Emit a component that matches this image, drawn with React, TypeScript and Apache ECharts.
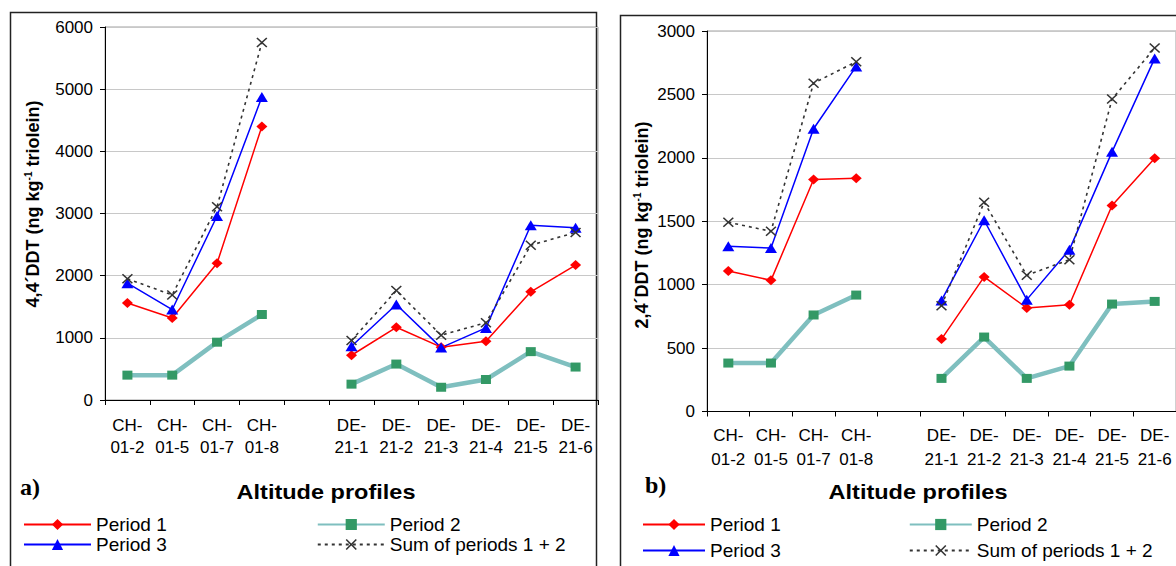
import React, { useEffect, useRef } from 'react';
import * as echarts from 'echarts';

const categories = ['CH-\n01-2', 'CH-\n01-5', 'CH-\n01-7', 'CH-\n01-8', '', 'DE-\n21-1', 'DE-\n21-2', 'DE-\n21-3', 'DE-\n21-4', 'DE-\n21-5', 'DE-\n21-6'];

// Panel a) 4,4'DDT
const p1a = [1560, 1320, 2200, 4400, null, 720, 1170, 850, 945, 1740, 2170];
const p2a = [400, 400, 930, 1375, null, 255, 578, 205, 330, 778, 530];
const p3a = [1880, 1455, 2960, 4875, null, 865, 1535, 843, 1160, 2810, 2770];
const sumA = [1950, 1690, 3110, 5750, null, 957, 1760, 1043, 1243, 2490, 2695];

// Panel b) 2,4'DDT
const p1b = [1108, 1034, 1829, 1839, null, 571, 1061, 816, 842, 1624, 1997];
const p2b = [382, 382, 761, 918, null, 261, 587, 261, 358, 847, 868];
const p3b = [1303, 1289, 2229, 2721, null, 876, 1508, 882, 1276, 2047, 2784];
const sumB = [1492, 1421, 2589, 2758, null, 834, 1650, 1074, 1197, 2463, 2866];

const names = ['Period 1', 'Period 2', 'Period 3', 'Sum of periods 1 + 2'];

const FONT = '"Liberation Sans", Arial, sans-serif';
const XSYM = 'path://M0,1L1,0L5,4L9,0L10,1L6,5L10,9L9,10L5,6L1,10L0,9L4,5Z';

function seriesFor(idx: number, d1: any[], d2: any[], d3: any[], ds: any[]) {
  const common = { type: 'line', xAxisIndex: idx, yAxisIndex: idx, connectNulls: false };
  return [
    { ...common, name: names[0], data: d1, symbol: 'diamond', symbolSize: [11, 10],
      lineStyle: { color: '#ff0000', width: 1.5 }, itemStyle: { color: '#ff0000' } },
    { ...common, name: names[1], data: d2, symbol: 'rect', symbolSize: [10, 9],
      lineStyle: { color: '#7fbfbf', width: 4.5 }, itemStyle: { color: '#339966' } },
    { ...common, name: names[2], data: d3, symbol: 'triangle', symbolSize: [12, 10],
      lineStyle: { color: '#0000ff', width: 1.5 }, itemStyle: { color: '#0000ff' } },
    { ...common, name: names[3], data: ds, symbol: XSYM, symbolSize: [11, 10],
      lineStyle: { color: '#333333', width: 1.6, type: [3, 4] }, itemStyle: { color: '#333333' } },
  ];
}

function xAxisFor(idx: number, lineHeight: number, margin: number) {
  return {
    type: 'category', gridIndex: idx, data: categories, boundaryGap: true,
    axisLine: { show: true, lineStyle: { color: '#000', width: 1 } },
    axisTick: { show: true, length: 5, interval: 0, lineStyle: { color: '#000' } },
    axisLabel: { interval: 0, color: '#000', fontFamily: FONT, fontSize: 17, lineHeight, margin },
    splitLine: { show: false },
  };
}

function yAxisFor(idx: number, max: number, interval: number) {
  return {
    type: 'value', gridIndex: idx, min: 0, max, interval,
    axisLine: { show: true, lineStyle: { color: '#000', width: 1 } },
    axisTick: { show: true, length: 5, lineStyle: { color: '#000' } },
    axisLabel: { color: '#000', fontFamily: FONT, fontSize: 17, margin: 12, formatter: (v: number) => String(v) },
    splitLine: { show: true, lineStyle: { color: '#c8c8c8', width: 1 } },
  };
}

function legendFor(data: string[], left: number, top: number, itemWidth: number, itemGap: number) {
  return {
    data, left, top, itemWidth, itemHeight: 14, itemGap, padding: 0, selectedMode: false,
    orient: 'horizontal',
    textStyle: { color: '#000', fontFamily: FONT, fontSize: 19 },
  };
}

function yName(x: number, y: number, label: string) {
  return {
    type: 'text', x, y, rotation: Math.PI / 2,
    style: {
      text: `{a|${label} (ng kg}{s|-1}{a| triolein)}`,
      align: 'center', verticalAlign: 'middle', fill: '#000',
      rich: {
        a: { fontFamily: FONT, fontSize: 18, fontWeight: 'bold', lineHeight: 20 },
        s: { fontFamily: FONT, fontSize: 10, fontWeight: 'bold', lineHeight: 20, verticalAlign: 'top' },
      },
    },
  };
}

export default function App() {
  const ref = useRef<HTMLDivElement>(null);
  useEffect(() => {
    const chart = echarts.init(ref.current!, null, { renderer: 'svg' });
    const option: any = {
      animation: false,
      backgroundColor: '#ffffff',
      grid: [
        { left: 105, top: 27, width: 493, height: 373, show: true, borderColor: '#a0a0a0', borderWidth: 1 },
        { left: 707, top: 31, width: 475, height: 380.5, show: true, borderColor: '#a0a0a0', borderWidth: 1 },
      ],
      xAxis: [xAxisFor(0, 22, 14), xAxisFor(1, 24, 12)],
      yAxis: [yAxisFor(0, 6000, 1000), yAxisFor(1, 3000, 500)],
      legend: [
        legendFor([names[0], names[1]], 23, 515, 67, 150),
        legendFor([names[2], names[3]], 23, 535, 67, 150),
        legendFor([names[0], names[1]], 642, 515, 62, 128),
        legendFor([names[2], names[3]], 642, 541, 62, 128),
      ],
      series: [
        ...seriesFor(0, p1a, p2a, p3a, sumA),
        ...seriesFor(1, p1b, p2b, p3b, sumB),
      ],
      graphic: [
        { type: 'rect', shape: { x: 10.5, y: 12.5, width: 586, height: 600 },
          style: { fill: 'none', stroke: '#222', lineWidth: 1.5 } },
        { type: 'rect', shape: { x: 620.5, y: 15.5, width: 600, height: 600 },
          style: { fill: 'none', stroke: '#222', lineWidth: 1.5 } },
        yName(33, 204, '4,4´DDT'),
        yName(642, 225, '2,4´DDT'),
        { type: 'text', x: 326, y: 492, scaleX: 1.12, style: { text: 'Altitude profiles', align: 'center', verticalAlign: 'middle',
          fill: '#000', font: `bold 21px ${FONT}` } },
        { type: 'text', x: 918, y: 492, scaleX: 1.12, style: { text: 'Altitude profiles', align: 'center', verticalAlign: 'middle',
          fill: '#000', font: `bold 21px ${FONT}` } },
        { type: 'text', x: 20, y: 487, style: { text: 'a)', align: 'left', verticalAlign: 'middle',
          fill: '#000', font: 'bold 24px "Liberation Serif", "Times New Roman", serif' } },
        { type: 'text', x: 645, y: 485, style: { text: 'b)', align: 'left', verticalAlign: 'middle',
          fill: '#000', font: 'bold 24px "Liberation Serif", "Times New Roman", serif' } },
      ],
    };
    chart.setOption(option);
    return () => chart.dispose();
  }, []);
  return <div ref={ref} style={{ position: 'fixed', left: 0, top: 0, width: 1176, height: 566, background: '#fff' }} />;
}
